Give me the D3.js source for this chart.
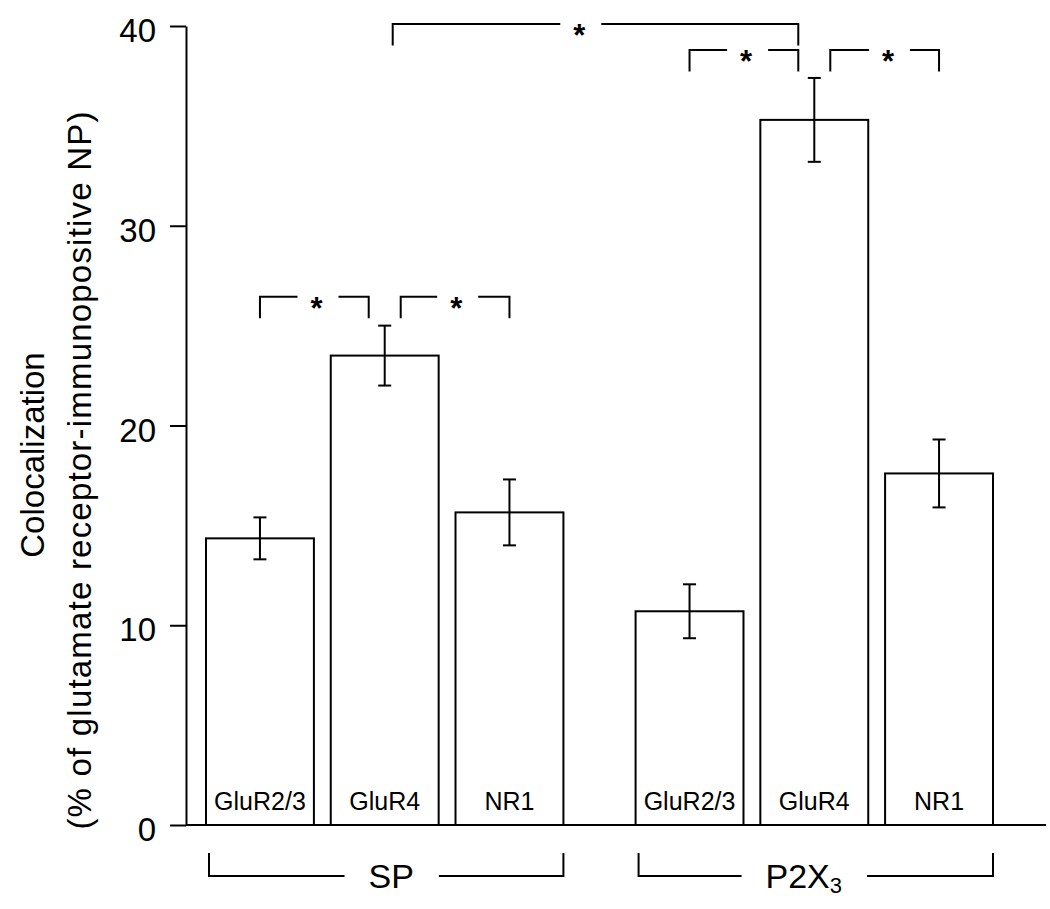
<!DOCTYPE html>
<html>
<head>
<meta charset="utf-8">
<script src="https://cdn.jsdelivr.net/npm/d3@7"></script>
<style>
  body { margin: 0; background: #fff; }
  svg { font-family: "Liberation Sans", Arial, sans-serif; }
</style>
</head>
<body>
<svg id="chart" width="1050" height="909"></svg>
<script>
// values (mean +/- SEM, % colocalization)
var groups = ['SP', 'P2X3'];
var receptors = ['GluR2/3', 'GluR4', 'NR1'];
var spMean = [14.35, 23.5, 15.65];
var spSem = [1.05, 1.5, 1.65];
var p2xMean = [10.7, 35.3, 17.6];
var p2xSem = [1.35, 2.1, 1.7];
var yTicks = [0, 10, 20, 30, 40];

// significance comparisons: [group, receptor] -> [group, receptor]
var sigFrom = [['SP', 'GluR2/3'], ['SP', 'GluR4'], ['P2X3', 'GluR2/3'], ['P2X3', 'GluR4'], ['SP', 'GluR4']];
var sigTo = [['SP', 'GluR4'], ['SP', 'NR1'], ['P2X3', 'GluR4'], ['P2X3', 'NR1'], ['P2X3', 'GluR4']];
var sigLevel = [26.45, 26.45, 38.8, 38.8, 40.1];
var sigMark = ['*', '*', '*', '*', '*'];

var rows = [];
groups.forEach(function(g) {
  receptors.forEach(function(r, i) {
    rows.push({
      group: g,
      receptor: r,
      mean: g === 'SP' ? spMean[i] : p2xMean[i],
      sem: g === 'SP' ? spSem[i] : p2xSem[i]
    });
  });
});

var svg = d3.select('#chart');

var y = d3.scaleLinear().domain([0, 40]).range([825, 26]);
var xGroup = d3.scaleBand().domain(groups).range([206, 993]).paddingInner(0.168);
var xBar = d3.scaleBand().domain(receptors).range([0, xGroup.bandwidth()]).paddingInner(0.135);

function barCenter(g, r) {
  return xGroup(g) + xBar(r) + xBar.bandwidth() / 2;
}

// y axis
var yAxis = svg.append('g')
  .attr('transform', 'translate(186,0)')
  .call(d3.axisLeft(y).tickValues(yTicks).tickSize(16).tickSizeOuter(0).tickPadding(14));
yAxis.select('.domain').attr('stroke-width', 2);
yAxis.selectAll('.tick line').attr('stroke-width', 2);
yAxis.selectAll('.tick text')
  .attr('font-size', 33)
  .attr('font-family', '"Liberation Sans", Arial, sans-serif')
  .attr('dy', '0.47em')
  .attr('fill', '#000');

// baseline
svg.append('line')
  .attr('x1', 186).attr('x2', 1046)
  .attr('y1', y(0)).attr('y2', y(0))
  .attr('stroke', '#000').attr('stroke-width', 2);

// bars
svg.selectAll('.bar')
  .data(rows)
  .enter().append('rect')
  .attr('class', 'bar')
  .attr('x', function(d) { return xGroup(d.group) + xBar(d.receptor); })
  .attr('y', function(d) { return y(d.mean); })
  .attr('width', xBar.bandwidth())
  .attr('height', function(d) { return y(0) - y(d.mean); })
  .attr('fill', '#fff')
  .attr('stroke', '#000')
  .attr('stroke-width', 2);

// error bars
var err = svg.selectAll('.err')
  .data(rows)
  .enter().append('g')
  .attr('class', 'err')
  .attr('stroke', '#000')
  .attr('stroke-width', 2);
err.append('line')
  .attr('x1', function(d) { return barCenter(d.group, d.receptor); })
  .attr('x2', function(d) { return barCenter(d.group, d.receptor); })
  .attr('y1', function(d) { return y(d.mean + d.sem); })
  .attr('y2', function(d) { return y(d.mean - d.sem); });
[1, -1].forEach(function(s) {
  err.append('line')
    .attr('x1', function(d) { return barCenter(d.group, d.receptor) - 6.5; })
    .attr('x2', function(d) { return barCenter(d.group, d.receptor) + 6.5; })
    .attr('y1', function(d) { return y(d.mean + s * d.sem); })
    .attr('y2', function(d) { return y(d.mean + s * d.sem); });
});

// receptor labels inside bars
svg.selectAll('.blabel')
  .data(rows)
  .enter().append('text')
  .attr('class', 'blabel')
  .attr('x', function(d) { return barCenter(d.group, d.receptor); })
  .attr('y', 810)
  .attr('text-anchor', 'middle')
  .attr('font-size', 25)
  .text(function(d) { return d.receptor; });

// significance brackets
var sideShift = [[0, -1], [1, 0], [0, -1], [1, 0], [0.5, -1]]; // nudge ends off shared bars
var starPos = [0.52, 0.51, 0.52, 0.53, 0.46];
sigFrom.forEach(function(a, i) {
  var b = sigTo[i];
  var x1 = barCenter(a[0], a[1]) + sideShift[i][0] * 16;
  var x2 = barCenter(b[0], b[1]) + sideShift[i][1] * 16;
  var yl = y(sigLevel[i]);
  var sx = x1 + (x2 - x1) * starPos[i];
  svg.append('path')
    .attr('d', 'M' + x1 + ',' + (yl + 21.5) + 'V' + yl + 'H' + (sx - 19) +
               'M' + (sx + 22) + ',' + yl + 'H' + x2 + 'V' + (yl + 21.5))
    .attr('fill', 'none')
    .attr('stroke', '#000')
    .attr('stroke-width', 2);
  svg.append('text')
    .attr('x', sx).attr('y', yl + 22)
    .attr('text-anchor', 'middle')
    .attr('font-size', 31)
    .attr('font-weight', 'bold')
    .text(sigMark[i]);
});

// group brackets below the axis
groups.forEach(function(g) {
  var gx1 = xGroup(g) + 3;
  var gx2 = xGroup(g) + xGroup.bandwidth();
  var cx = (gx1 + gx2) / 2;
  var lbl = svg.append('text')
    .attr('x', cx).attr('y', 888)
    .attr('text-anchor', 'middle')
    .attr('font-size', 34);
  if (g === 'P2X3') {
    lbl.attr('x', cx - 12);
    lbl.append('tspan').text('P2X');
    lbl.append('tspan').attr('font-size', 22).attr('dy', 5).text('3');
  } else {
    lbl.attr('x', cx + 5);
    lbl.text(g);
  }
  var bb = lbl.node().getBBox();
  svg.append('path')
    .attr('d', 'M' + gx1 + ',853V876H' + (bb.x - 24) + 'M' + (bb.x + bb.width + 25) + ',876H' + gx2 + 'V853')
    .attr('fill', 'none')
    .attr('stroke', '#000')
    .attr('stroke-width', 2);
});

// y axis title
svg.append('text')
  .attr('transform', 'translate(44,455) rotate(-90)')
  .attr('text-anchor', 'middle')
  .attr('font-size', 33)
  .text('Colocalization');
svg.append('text')
  .attr('transform', 'translate(91,470) rotate(-90)')
  .attr('text-anchor', 'middle')
  .attr('font-size', 33)
  .attr('letter-spacing', 1.2)
  .text('(% of glutamate receptor-immunopositive NP)');
</script>
</body>
</html>
